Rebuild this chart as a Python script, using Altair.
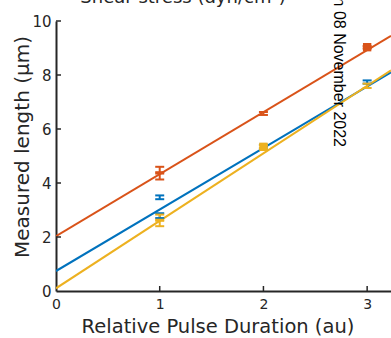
import altair as alt
import pandas as pd

# ---- data ----
series_names = ["S1", "S2", "S3"]
series_colors = ["#D95319", "#0072BD", "#EDB120"]

# fitted lines (value at x = 0 and at right edge x = 3.23)
line_series = ["S1", "S1", "S2", "S2", "S3", "S3"]
line_x = [0, 3.23, 0, 3.23, 0, 3.23]
line_y = [2.03, 9.45, 0.74, 8.10, 0.10, 8.17]

# error bars
err_series = ["S1", "S1", "S1", "S1", "S2", "S2", "S2", "S2", "S3", "S3", "S3", "S3"]
err_x = [1, 1, 2, 3, 1, 1, 2, 3, 1, 1, 2, 3]
err_lo = [4.35, 4.13, 6.52, 8.98, 3.40, 2.70, 5.28, 7.68, 2.60, 2.40, 5.28, 7.52]
err_hi = [4.60, 4.40, 6.63, 9.07, 3.54, 2.88, 5.42, 7.80, 2.83, 2.64, 5.40, 7.68]

# square markers
sq_series = ["S1", "S3"]
sq_x = [3, 2]
sq_y = [9.03, 5.34]

x_ticks = [0, 1, 2, 3]
y_ticks = [0, 2, 4, 6, 8, 10]

title_text = "Shear stress (dyn/cm²)"
x_title = "Relative Pulse Duration (au)"
y_title = "Measured length (µm)"
stamp_text = "Printed on 08 November 2022"

AX = "#262626"
FONT = "DejaVu Sans"

lines_df = pd.DataFrame({"s": line_series, "x": line_x, "y": line_y})
err_df = pd.DataFrame({"s": err_series, "x": err_x, "lo": err_lo, "hi": err_hi})
caps_df = pd.DataFrame({
    "s": err_series + err_series,
    "x": err_x + err_x,
    "y": err_lo + err_hi,
})
sq_df = pd.DataFrame({"s": sq_series, "x": sq_x, "y": sq_y})

xscale = alt.Scale(domain=[0, 3.23], nice=False, zero=False)
yscale = alt.Scale(domain=[0, 10], nice=False)
cscale = alt.Scale(domain=series_names, range=series_colors)

xaxis = alt.Axis(values=x_ticks, format="d", title=None, ticks=False, grid=False,
                 domainColor=AX, domainWidth=2, labelColor=AX,
                 labelFont=FONT, labelFontSize=14, labelPadding=6,
                 labelFlush=False)
yaxis = alt.Axis(values=y_ticks, format="d", title=None, ticks=False, grid=False,
                 domainColor=AX, domainWidth=2, labelColor=AX,
                 labelFont=FONT, labelFontSize=15, labelPadding=5,
                 labelFlush=False)

lines = alt.Chart(lines_df).mark_line(strokeWidth=2, clip=True).encode(
    x=alt.X("x:Q", scale=xscale, axis=xaxis),
    y=alt.Y("y:Q", scale=yscale, axis=yaxis),
    color=alt.Color("s:N", scale=cscale, legend=None),
    detail="s:N",
)

bars = alt.Chart(err_df).mark_rule(strokeWidth=2).encode(
    x=alt.X("x:Q", scale=xscale),
    y=alt.Y("lo:Q", scale=yscale),
    y2="hi:Q",
    color=alt.Color("s:N", scale=cscale, legend=None),
)

caps = alt.Chart(caps_df).mark_tick(orient="horizontal", size=9, thickness=2, opacity=1).encode(
    x=alt.X("x:Q", scale=xscale),
    y=alt.Y("y:Q", scale=yscale),
    color=alt.Color("s:N", scale=cscale, legend=None),
)

squares = alt.Chart(sq_df).mark_square(size=70, opacity=1, filled=True).encode(
    x=alt.X("x:Q", scale=xscale),
    y=alt.Y("y:Q", scale=yscale),
    color=alt.Color("s:N", scale=cscale, legend=None),
)

xt_df = pd.DataFrame({"v": x_ticks[1:]})
yt_df = pd.DataFrame({"v": y_ticks[1:]})
xticks = alt.Chart(xt_df).mark_rule(color=AX, strokeWidth=1.5).encode(
    x=alt.X("v:Q", scale=xscale), y=alt.value(265), y2=alt.value(270))
yticks = alt.Chart(yt_df).mark_rule(color=AX, strokeWidth=1.5).encode(
    y=alt.Y("v:Q", scale=yscale), x=alt.value(0), x2=alt.value(5))

def label(text, x, y, size, angle=0, align="center", baseline="alphabetic", font=FONT, color=AX):
    kw = dict(fontSize=size, font=font, color=color, align=align, baseline=baseline)
    if angle:
        kw["angle"] = angle
    return alt.Chart(pd.DataFrame({"t": [text]})).mark_text(**kw).encode(
        text="t:N", x=alt.value(x), y=alt.value(y))

title_lbl = label(title_text, 127, -18, 18)
x_lbl = label(x_title, 162, 312, 19.5)
y_lbl = label(y_title, -33, 126, 20, angle=270, baseline="middle")
stamp = label(stamp_text, 283, 126, 16, angle=90, align="right", baseline="middle",
              font="Liberation Sans", color="#000000")

chart = alt.layer(
    lines, bars, caps, squares, xticks, yticks, title_lbl, x_lbl, y_lbl, stamp
).properties(
    width=335, height=270,
    padding={"left": 56, "top": 21, "right": 0, "bottom": 47},
    autosize=alt.AutoSizeParams(type="none"),
).configure_view(stroke=None)

chart.save("out.html", embed_options={"renderer": "svg", "actions": False})
